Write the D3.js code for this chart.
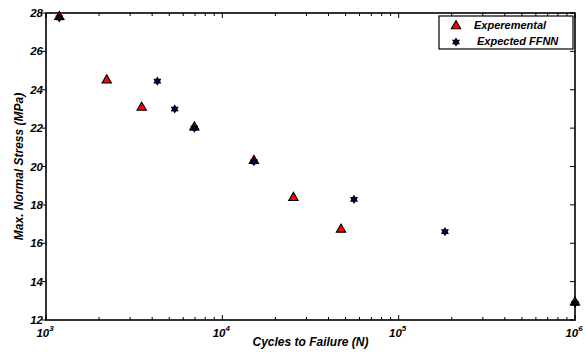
<!DOCTYPE html>
<html>
<head>
<meta charset="utf-8">
<script src="https://cdn.jsdelivr.net/npm/d3@7/dist/d3.min.js"></script>
<style>
  html, body { margin: 0; padding: 0; background: #fff; }
  svg { display: block; }
  text { font-family: "Liberation Sans", Arial, sans-serif; font-weight: bold; font-style: italic; fill: #000; }
</style>
</head>
<body>
<svg id="chart" width="585" height="354"></svg>
<script>
// Experimental fatigue data: cycles to failure vs. maximum normal stress
const expCycles = [1190, 2210, 3490, 6940, 15100, 25300, 47100, 1000000];
const expStress = [27.8, 24.5, 23.07, 22.05, 20.3, 18.37, 16.72, 12.92];

// Stresses predicted by the feed-forward neural network
const ffnnCycles = [1190, 4280, 5370, 6940, 15100, 55800, 183000, 1000000];
const ffnnStress = [27.8, 24.5, 23.05, 22.05, 20.3, 18.34, 16.66, 12.92];

const yTicks = [12, 14, 16, 18, 20, 22, 24, 26, 28];
const xDecades = [3, 4, 5, 6];
const legendLabels = ["Experemental", "Expected FFNN"];

const svg = d3.select("#chart");
const plotL = 46, plotR = 575, plotT = 13, plotB = 320;

const x = d3.scaleLog().domain([1e3, 1e6]).range([plotL, plotR]);
const y = d3.scaleLinear().domain([12, 28]).range([plotB, plotT]);

// minor ticks 2..9 per decade
const minorTicks = [];
xDecades.slice(0, -1).forEach(e => {
  for (let m = 2; m <= 9; m++) minorTicks.push(m * Math.pow(10, e));
});

const g = svg.append("g");

// plot frame
g.append("rect")
  .attr("x", plotL).attr("y", plotT)
  .attr("width", plotR - plotL).attr("height", plotB - plotT)
  .attr("fill", "none").attr("stroke", "#000").attr("stroke-width", 1.6);

// x ticks (inward, bottom and top)
const xt = xDecades.map(e => Math.pow(10, e));
g.selectAll("line.xmaj").data(xt).join("line")
  .attr("x1", d => x(d)).attr("x2", d => x(d))
  .attr("y1", plotB).attr("y2", plotB - 5)
  .attr("stroke", "#000").attr("stroke-width", 1);
g.selectAll("line.xmajt").data(xt).join("line")
  .attr("x1", d => x(d)).attr("x2", d => x(d))
  .attr("y1", plotT).attr("y2", plotT + 5)
  .attr("stroke", "#000").attr("stroke-width", 1);
g.selectAll("line.xmin").data(minorTicks).join("line")
  .attr("x1", d => x(d)).attr("x2", d => x(d))
  .attr("y1", plotB).attr("y2", plotB - 3)
  .attr("stroke", "#000").attr("stroke-width", 1);
g.selectAll("line.xmint").data(minorTicks).join("line")
  .attr("x1", d => x(d)).attr("x2", d => x(d))
  .attr("y1", plotT).attr("y2", plotT + 3)
  .attr("stroke", "#000").attr("stroke-width", 1);

// y ticks: outward on the left, inward on the right
g.selectAll("line.yl").data(yTicks).join("line")
  .attr("x1", plotL - 4).attr("x2", plotL)
  .attr("y1", d => y(d)).attr("y2", d => y(d))
  .attr("stroke", "#000").attr("stroke-width", 1);
g.selectAll("line.yr").data(yTicks).join("line")
  .attr("x1", plotR - 5).attr("x2", plotR)
  .attr("y1", d => y(d)).attr("y2", d => y(d))
  .attr("stroke", "#000").attr("stroke-width", 1);

// y tick labels
g.selectAll("text.yl").data(yTicks).join("text")
  .attr("x", plotL - 3).attr("y", d => y(d) + 4)
  .attr("text-anchor", "end").attr("font-size", 11.5)
  .text(d => d);

// x tick labels: 10 with superscript exponent
const xl = g.selectAll("text.xl").data(xDecades).join("text")
  .attr("x", d => x(Math.pow(10, d)) - 1).attr("y", 337)
  .attr("text-anchor", "middle").attr("font-size", 11.5);
xl.append("tspan").text("10");
xl.append("tspan").attr("dy", -6).attr("font-size", 8).text(d => d);

// axis titles
svg.append("text")
  .attr("x", (plotL + plotR) / 2).attr("y", 346)
  .attr("text-anchor", "middle").attr("font-size", 12)
  .text("Cycles to Failure (N)");
svg.append("text")
  .attr("transform", `translate(23,${(plotT + plotB) / 2}) rotate(-90)`)
  .attr("text-anchor", "middle").attr("font-size", 12)
  .text("Max. Normal Stress (MPa)");

// markers
const tri = d3.symbol().type(d3.symbolTriangle).size(38);
function hexagram(r) {
  const pts = [];
  for (let i = 0; i < 12; i++) {
    const a = -Math.PI / 2 + i * Math.PI / 6;
    const rr = i % 2 === 0 ? r : r * 0.6;
    pts.push([rr * Math.cos(a), rr * Math.sin(a)]);
  }
  return "M" + pts.map(p => p.join(",")).join("L") + "Z";
}

const expData = expCycles.map((c, i) => [c, expStress[i]]);
const ffnnData = ffnnCycles.map((c, i) => [c, ffnnStress[i]]);

g.selectAll("path.exp").data(expData).join("path")
  .attr("d", tri)
  .attr("transform", d => `translate(${x(d[0])},${y(d[1])})`)
  .attr("fill", "#ff0000").attr("stroke", "#000").attr("stroke-width", 1.1);

g.selectAll("path.ffnn").data(ffnnData).join("path")
  .attr("d", hexagram(3.2))
  .attr("transform", d => `translate(${x(d[0])},${y(d[1]) + 1})`)
  .attr("fill", "#000080").attr("stroke", "#000").attr("stroke-width", 1.5);

// legend
const lg = svg.append("g");
lg.append("rect")
  .attr("x", 439).attr("y", 16).attr("width", 134).attr("height", 33)
  .attr("fill", "#fff").attr("stroke", "#000").attr("stroke-width", 1.2);
lg.append("path").attr("d", tri)
  .attr("transform", "translate(456,26)")
  .attr("fill", "#ff0000").attr("stroke", "#000").attr("stroke-width", 1.1);
lg.append("path").attr("d", hexagram(3.2))
  .attr("transform", "translate(456,42)")
  .attr("fill", "#000080").attr("stroke", "#000").attr("stroke-width", 1.5);
lg.selectAll("text").data(legendLabels).join("text")
  .attr("x", (d, i) => i === 0 ? 474 : 477)
  .attr("y", (d, i) => 29 + i * 16)
  .attr("font-size", 11)
  .text(d => d);
</script>
</body>
</html>
